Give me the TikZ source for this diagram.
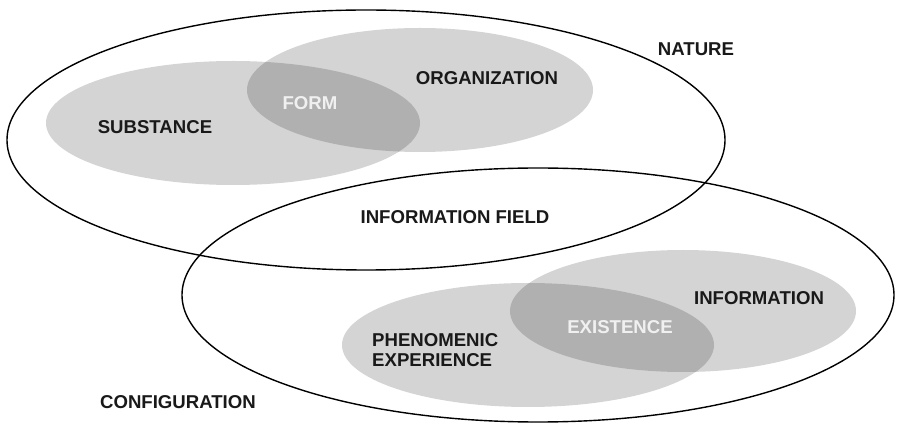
\documentclass[tikz,border=0pt]{standalone}
\usepackage{fontspec}
\setmainfont{Liberation Sans}
\begin{document}
\begin{tikzpicture}[x=1pt,y=-1pt,
  outline/.style={draw=black,line width=1.4pt},
  blob/.style={fill=black,fill opacity=0.17},
  lbl/.style={font=\fontsize{18.6}{21}\selectfont\bfseries,text=black!90,inner sep=0pt},
  wlbl/.style={lbl,text=white!94!black}]
\useasboundingbox (0,0) rectangle (897,427);
% gray ellipses
\fill[blob] (233,123) ellipse [x radius=187pt,y radius=62pt];
\fill[blob] (420,90) ellipse [x radius=173pt,y radius=62pt];
\fill[blob] (528,345) ellipse [x radius=186pt,y radius=62pt];
\fill[blob] (683,311) ellipse [x radius=173pt,y radius=61pt];
% outlines
\draw[outline] (366,140) ellipse [x radius=359pt,y radius=130pt];
\draw[outline] (538,295) ellipse [x radius=356pt,y radius=127pt];
% labels
\node[lbl] (substance) at (155,127) {SUBSTANCE};
\node[wlbl] (form) at (310,103) {FORM};
\node[lbl] (organization) at (487,78) {ORGANIZATION};
\node[lbl] (nature) at (696,49) {NATURE};
\node[lbl] (field) at (455,217) {INFORMATION FIELD};
\node[lbl,align=left,anchor=west] (phen) at (372,350) {PHENOMENIC\\[-1pt]EXPERIENCE};
\node[wlbl] (existence) at (620,327) {EXISTENCE};
\node[lbl] (information) at (759,298) {INFORMATION};
\node[lbl,anchor=east] (configuration) at (256,402) {CONFIGURATION};
\end{tikzpicture}
\end{document}
